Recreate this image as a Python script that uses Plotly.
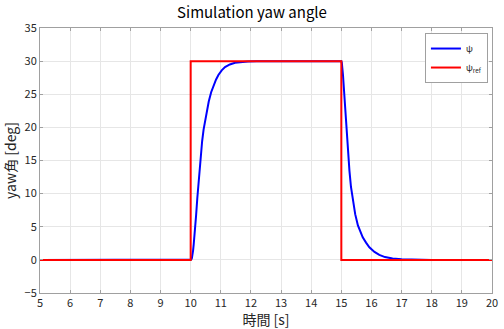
import plotly.graph_objects as go

# Reference (step) signal
ref_t = [5, 10, 10, 15, 15, 20]
ref_v = [0, 0, 30, 30, 0, 0]

# Response psi
psi_t = [5, 10.0, 10.02, 10.04, 10.06, 10.08, 10.10, 10.13, 10.16, 10.18, 10.22, 10.27, 10.32, 10.38, 10.43,
         10.49, 10.55, 10.6, 10.68, 10.76, 10.84, 10.92, 11.03, 11.14, 11.3, 11.47, 11.7, 11.9, 12.2, 12.5, 15.0,
         15.015, 15.03, 15.055, 15.08, 15.11, 15.15, 15.19, 15.23, 15.27, 15.32, 15.38, 15.46, 15.55, 15.63, 15.71,
         15.82, 15.93, 16.1, 16.26, 16.45, 16.7, 17.0, 17.35, 18.0, 20]
psi_v = [0, 0, 0.05, 0.25, 0.7, 1.4, 2.3, 3.6, 5.4, 6.7, 9.3, 12.4, 15.0, 17.9, 19.7,
         21.4, 22.9, 23.9, 25.3, 26.4, 27.2, 27.9, 28.6, 29.1, 29.5, 29.75, 29.9, 29.95, 29.99, 30.0, 30.0,
         29.8, 29.3, 27.9, 26.2, 23.9, 21.0, 18.4, 15.8, 13.4, 11.0, 8.9, 6.9, 5.2, 4.2, 3.4,
         2.6, 1.9, 1.2, 0.75, 0.42, 0.2, 0.08, 0.02, 0.0, 0.0]

x_ticks = list(range(5, 21))
y_ticks = list(range(-5, 36, 5))

font = "Noto Sans CJK JP"

fig = go.Figure()
fig.add_trace(go.Scatter(x=psi_t, y=psi_v, mode="lines", name="ψ",
                         line=dict(color="#0000ff", width=2)))
fig.add_trace(go.Scatter(x=ref_t, y=ref_v, mode="lines", name="ψ<sub>ref</sub>",
                         line=dict(color="#ff0000", width=2)))

axis_common = dict(showgrid=True, gridcolor="#e6e6e6", gridwidth=1,
                   showline=True, linecolor="#a0a0a0", linewidth=1, mirror="ticks",
                   ticks="inside", ticklen=3, tickcolor="#a0a0a0",
                   tickfont=dict(family=font, size=11, color="#262626"),
                   zeroline=False)

fig.update_layout(
    width=504, height=329,
    margin=dict(l=40, r=6, t=28, b=34),
    paper_bgcolor="white", plot_bgcolor="white",
    title=dict(text="Simulation yaw angle", x=0.5, xanchor="center", y=0.96, yanchor="middle",
               font=dict(family=font, size=15, color="black")),
    xaxis=dict(range=[5, 20], tickvals=x_ticks, **axis_common,
               title=dict(text="時間 [s]", font=dict(family=font, size=14, color="#262626"), standoff=3)),
    yaxis=dict(range=[-5, 35], tickvals=y_ticks, **axis_common,
               title=dict(text="yaw角 [deg]", font=dict(family=font, size=14, color="#262626"), standoff=4)),
    legend=dict(x=0.991, y=0.981, xanchor="right", yanchor="top",
                bgcolor="white", bordercolor="#a0a0a0", borderwidth=1,
                font=dict(family=font, size=9, color="#262626"),
                itemwidth=30, tracegroupgap=0),
    showlegend=True,
)

fig.write_html("out.html")
